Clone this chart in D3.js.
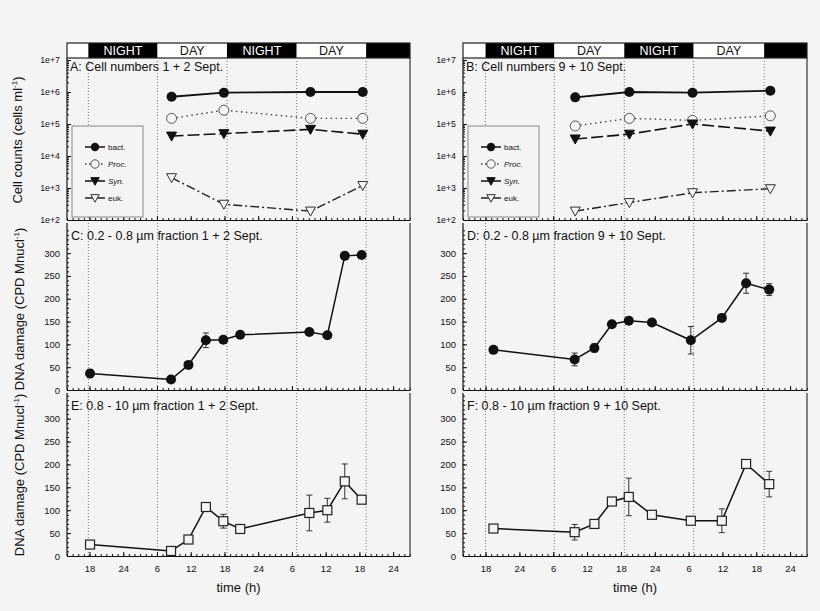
<!DOCTYPE html>
<html>
<head>
<meta charset="utf-8">
<script src="https://cdn.jsdelivr.net/npm/d3@7"></script>
<style>
body { margin: 0; background: #f4f4f4; }
svg { display: block; font-family: "Liberation Sans", Arial, sans-serif; }
</style>
</head>
<body>
<svg width="820" height="611"></svg>
<script>
// time in hours counted from midnight of the first day (30 = 6:00 next day, ...)
var tickHours = [18, 24, 30, 36, 42, 48, 54, 60, 66, 72];
var tickLabels = ["18", "24", "6", "12", "18", "24", "6", "12", "18", "24"];
var bandLabels = ["NIGHT", "DAY", "NIGHT", "DAY", ""];
var bounds1 = [17.8, 30.1, 42.45, 54.85, 67.2];
var bounds2 = [18, 30.2, 42.6, 54.9, 67.4];

var seriesNames = ["bact.", "Proc.", "Syn.", "euk."];

// A: cell numbers 1 + 2 Sept.
var cellTimes1 = [32.6, 41.9, 57.3, 66.6];
var bact1 = [7.1e5, 9.5e5, 1.0e6, 1.0e6];
var proc1 = [1.5e5, 2.7e5, 1.5e5, 1.5e5];
var syn1 = [4.2e4, 5.0e4, 6.8e4, 4.8e4];
var euk1 = [2.1e3, 3.1e2, 1.9e2, 1.2e3];

// B: cell numbers 9 + 10 Sept.
var cellTimes2 = [33.9, 43.5, 54.7, 68.5];
var bact2 = [6.8e5, 1.0e6, 9.5e5, 1.1e6];
var proc2 = [8.7e4, 1.5e5, 1.3e5, 1.8e5];
var syn2 = [3.4e4, 4.8e4, 1.0e5, 6.0e4];
var euk2 = [1.9e2, 3.5e2, 7.1e2, 9.5e2];

// C / E: DNA damage 1 + 2 Sept.
var dnaTimes1 = [18.1, 32.5, 35.6, 38.7, 41.8, 44.8, 57.1, 60.3, 63.4, 66.4];
var smallC = [36, 23, 55, 109, 110, 121, 127, 120, 294, 296];
var smallCErr = [9, 0, 0, 16, 0, 6, 0, 0, 0, 0];
var largeE = [25, 11, 36, 107, 76, 59, 94, 100, 163, 123];
var largeEErr = [0, 0, 0, 0, 15, 0, 39, 26, 38, 4];

// D / F: DNA damage 9 + 10 Sept.
var dnaTimes2 = [19.4, 33.8, 37.3, 40.4, 43.4, 47.5, 54.4, 59.9, 64.2, 68.3];
var smallD = [88, 67, 92, 144, 152, 148, 109, 158, 234, 220];
var smallDErr = [0, 14, 9, 0, 0, 0, 30, 0, 22, 13];
var largeF = [60, 52, 70, 119, 129, 90, 77, 77, 201, 157];
var largeFErr = [0, 17, 0, 0, 41, 0, 0, 26, 0, 28];

var svg = d3.select("svg");
var bg = "#f4f4f4";
var ink = "#111";

svg.append("rect").attr("width", 820).attr("height", 611).attr("fill", bg);

var bandTop = 43, bandBottom = 58;
var panA = { top: 58, bottom: 220 };
var panC = { top: 223, bottom: 390 };
var panE = { top: 393, bottom: 556 };

var columns = [
    {
        x0: 67, x1: 410, bounds: bounds1,
        cellTimes: cellTimes1, cells: [bact1, proc1, syn1, euk1],
        dnaTimes: dnaTimes1, small: smallC, smallErr: smallCErr, large: largeE, largeErr: largeEErr,
        titles: ["A: Cell numbers 1 + 2 Sept.", "C: 0.2 - 0.8 \u00b5m fraction 1 + 2 Sept.", "E: 0.8 - 10 \u00b5m fraction 1 + 2 Sept."],
        yTitles: true
    },
    {
        x0: 463, x1: 807, bounds: bounds2,
        cellTimes: cellTimes2, cells: [bact2, proc2, syn2, euk2],
        dnaTimes: dnaTimes2, small: smallD, smallErr: smallDErr, large: largeF, largeErr: largeFErr,
        titles: ["B: Cell numbers 9 + 10 Sept.", "D: 0.2 - 0.8 \u00b5m fraction 9 + 10 Sept.", "F: 0.8 - 10 \u00b5m fraction 9 + 10 Sept."],
        yTitles: false
    }
];

var lineStyles = [
    { dash: null, color: ink, w: 1.8 },
    { dash: "1.5,3.5", color: "#444", w: 1.4 },
    { dash: "12,4", color: ink, w: 1.6 },
    { dash: "9,3,2,3", color: "#222", w: 1.4 }
];

function triDown(g, cx, cy, filled, s) {
    g.append("path")
        .attr("d", "M" + (cx - s) + "," + (cy - s * 0.8) + "L" + (cx + s) + "," + (cy - s * 0.8) + "L" + cx + "," + (cy + s) + "Z")
        .attr("fill", filled ? ink : bg)
        .attr("stroke", filled ? ink : "#333")
        .attr("stroke-width", 1);
}

function marker(g, kind, cx, cy, s) {
    s = s || 5;
    if (kind == 0) {
        g.append("circle").attr("cx", cx).attr("cy", cy).attr("r", s).attr("fill", ink);
    } else if (kind == 1) {
        g.append("circle").attr("cx", cx).attr("cy", cy).attr("r", s)
            .attr("fill", bg).attr("stroke", "#555").attr("stroke-width", 1);
    } else if (kind == 2) {
        triDown(g, cx, cy, true, s);
    } else if (kind == 3) {
        triDown(g, cx, cy, false, s);
    } else {
        g.append("rect").attr("x", cx - 4.5).attr("y", cy - 4.5).attr("width", 9).attr("height", 9)
            .attr("fill", bg).attr("stroke", "#222").attr("stroke-width", 1.2);
    }
}

function drawXTicks(g, x, yPos, labels) {
    var minor = d3.range(14, 76, 1);
    g.append("g")
        .attr("transform", "translate(0," + yPos + ")")
        .call(d3.axisBottom(x).tickValues(minor).tickFormat("").tickSize(-2).tickSizeOuter(0))
        .call(function (a) { a.select(".domain").remove(); a.selectAll("line").attr("stroke", ink); });
    var ax = g.append("g")
        .attr("transform", "translate(0," + yPos + ")")
        .call(d3.axisBottom(x).tickValues(tickHours).tickSize(-4).tickSizeOuter(0).tickPadding(9)
            .tickFormat(function (d, i) { return labels ? tickLabels[i] : ""; }));
    ax.select(".domain").attr("stroke", ink).attr("stroke-width", 1.2);
    ax.selectAll("line").attr("stroke", ink);
    ax.selectAll("text").attr("font-size", 9.5).attr("fill", ink).attr("font-family", null);
}

function drawPanelFrame(g, c, top, bottom) {
    g.append("line").attr("x1", c.x1).attr("x2", c.x1).attr("y1", top).attr("y2", bottom)
        .attr("stroke", "#333").attr("stroke-width", 1.2);
}

function drawColumn(c) {
    var g = svg.append("g");
    var x = d3.scaleLinear().domain([14, 75]).range([c.x0, c.x1]);

    // day / night band
    var edges = [c.x0].concat(c.bounds.map(x)).concat([c.x1]);
    g.append("rect").attr("x", edges[0]).attr("y", bandTop).attr("width", edges[1] - edges[0])
        .attr("height", bandBottom - bandTop).attr("fill", "#ffffff");
    for (var i = 1; i < edges.length - 1; i++) {
        var night = (i % 2 == 1);
        g.append("rect").attr("x", edges[i]).attr("y", bandTop).attr("width", edges[i + 1] - edges[i])
            .attr("height", bandBottom - bandTop).attr("fill", night ? "#000000" : "#ffffff");
        g.append("text").attr("x", (edges[i] + edges[i + 1]) / 2).attr("y", bandBottom - 3.5)
            .attr("text-anchor", "middle").attr("font-size", 12.5)
            .attr("fill", night ? "#ffffff" : ink).text(bandLabels[i - 1]);
    }
    g.append("rect").attr("x", c.x0).attr("y", bandTop).attr("width", c.x1 - c.x0)
        .attr("height", bandBottom - bandTop).attr("fill", "none").attr("stroke", "#222").attr("stroke-width", 1.2);

    // dotted day/night gridlines
    [panA, panC, panE].forEach(function (p) {
        g.selectAll(null).data(c.bounds).enter().append("line")
            .attr("x1", function (d) { return x(d); }).attr("x2", function (d) { return x(d); })
            .attr("y1", p.top).attr("y2", p.bottom)
            .attr("stroke", "#777").attr("stroke-width", 1).attr("stroke-dasharray", "1,2");
    });

    // ---- panel A/B: cell counts (log)
    var yLog = d3.scaleLog().domain([1e2, 1e7]).range([panA.bottom, 60]);
    var minorLog = [];
    for (var e = 2; e < 7; e++) for (var m = 2; m < 10; m++) minorLog.push(m * Math.pow(10, e));
    g.append("g").attr("transform", "translate(" + c.x0 + ",0)")
        .call(d3.axisLeft(yLog).tickValues(minorLog).tickFormat("").tickSize(-2).tickSizeOuter(0))
        .call(function (a) { a.select(".domain").remove(); a.selectAll("line").attr("stroke", ink); });
    var ayA = g.append("g").attr("transform", "translate(" + c.x0 + ",0)")
        .call(d3.axisLeft(yLog).tickValues([1e2, 1e3, 1e4, 1e5, 1e6, 1e7]).tickSize(-4).tickSizeOuter(0).tickPadding(7)
            .tickFormat(function (d) { return "1e+" + Math.round(Math.log10(d)); }));
    ayA.select(".domain").attr("d", "M0," + panA.top + "V" + panA.bottom).attr("stroke", ink).attr("stroke-width", 1.2);
    ayA.selectAll("line").attr("stroke", ink);
    ayA.selectAll("text").attr("font-size", 8.8).attr("fill", ink).attr("font-family", null);
    drawXTicks(g, x, panA.bottom, false);
    drawPanelFrame(g, c, panA.top, panA.bottom);

    g.append("text").attr("x", c.x0 + 3).attr("y", 71).attr("font-size", 12.5).attr("fill", ink).text(c.titles[0]);

    c.cells.forEach(function (vals, k) {
        var pts = vals.map(function (v, j) { return { t: c.cellTimes[j], v: v }; });
        var line = d3.line().x(function (d) { return x(d.t); }).y(function (d) { return yLog(d.v); });
        g.append("path").datum(pts).attr("d", line).attr("fill", "none")
            .attr("stroke", lineStyles[k].color).attr("stroke-width", lineStyles[k].w)
            .attr("stroke-dasharray", lineStyles[k].dash);
    });
    c.cells.forEach(function (vals, k) {
        vals.forEach(function (v, j) { marker(g, k, x(c.cellTimes[j]), yLog(v)); });
    });

    // legend
    var lx = c.x0 + 5, ly = 126;
    g.append("rect").attr("x", lx).attr("y", ly).attr("width", 71).attr("height", 91)
        .attr("fill", bg).attr("stroke", "#888").attr("stroke-width", 1);
    seriesNames.forEach(function (name, k) {
        var yy = ly + 21 + k * 17;
        g.append("line").attr("x1", lx + 13).attr("x2", lx + 33).attr("y1", yy).attr("y2", yy)
            .attr("stroke", lineStyles[k].color).attr("stroke-width", 1.5)
            .attr("stroke-dasharray", k == 1 ? "1.5,2.5" : null);
        marker(g, k, lx + 23, yy, 4.2);
        g.append("text").attr("x", lx + 36).attr("y", yy + 3).attr("font-size", 8)
            .attr("font-style", (k == 1 || k == 2) ? "italic" : null).attr("fill", ink).text(name);
    });

    // ---- panels C/D and E/F: DNA damage
    var dnaPanels = [
        { p: panC, max: 366, vals: c.small, err: c.smallErr, kind: 0, title: c.titles[1], labels: false },
        { p: panE, max: 356, vals: c.large, err: c.largeErr, kind: 4, title: c.titles[2], labels: true }
    ];
    dnaPanels.forEach(function (dp) {
        var y = d3.scaleLinear().domain([0, dp.max]).range([dp.p.bottom, dp.p.top]);
        g.append("g").attr("transform", "translate(" + c.x0 + ",0)")
            .call(d3.axisLeft(y).tickValues(d3.range(0, 351, 10)).tickFormat("").tickSize(-2).tickSizeOuter(0))
            .call(function (a) { a.select(".domain").remove(); a.selectAll("line").attr("stroke", ink); });
        var ay = g.append("g").attr("transform", "translate(" + c.x0 + ",0)")
            .call(d3.axisLeft(y).tickValues([0, 50, 100, 150, 200, 250, 300]).tickSize(-4).tickSizeOuter(0).tickPadding(7));
        ay.select(".domain").attr("d", "M0," + dp.p.top + "V" + dp.p.bottom).attr("stroke", ink).attr("stroke-width", 1.2);
        ay.selectAll("line").attr("stroke", ink);
        ay.selectAll("text").attr("font-size", 9.5).attr("fill", ink).attr("font-family", null);
        drawXTicks(g, x, dp.p.bottom, dp.labels);
        drawPanelFrame(g, c, dp.p.top, dp.p.bottom);

        g.append("text").attr("x", c.x0 + 4).attr("y", dp.p.top + 17).attr("font-size", 12.5)
            .attr("fill", ink).text(dp.title);

        var pts = dp.vals.map(function (v, j) { return { t: c.dnaTimes[j], v: v, e: dp.err[j] }; });
        var line = d3.line().x(function (d) { return x(d.t); }).y(function (d) { return y(d.v); });
        g.append("path").datum(pts).attr("d", line).attr("fill", "none")
            .attr("stroke", ink).attr("stroke-width", 1.5);

        var eb = g.selectAll(null).data(pts.filter(function (d) { return d.e > 0; })).enter().append("g");
        eb.append("line").attr("x1", function (d) { return x(d.t); }).attr("x2", function (d) { return x(d.t); })
            .attr("y1", function (d) { return y(d.v - d.e); }).attr("y2", function (d) { return y(d.v + d.e); })
            .attr("stroke", "#333").attr("stroke-width", 1);
        [-1, 1].forEach(function (s) {
            eb.append("line").attr("x1", function (d) { return x(d.t) - 3; }).attr("x2", function (d) { return x(d.t) + 3; })
                .attr("y1", function (d) { return y(d.v + s * d.e); }).attr("y2", function (d) { return y(d.v + s * d.e); })
                .attr("stroke", "#333").attr("stroke-width", 1);
        });
        pts.forEach(function (d) { marker(g, dp.kind, x(d.t), y(d.v)); });
    });

    // x axis title
    g.append("text").attr("x", (c.x0 + c.x1) / 2).attr("y", 592).attr("text-anchor", "middle")
        .attr("font-size", 13).attr("fill", ink).text("time (h)");

    if (c.yTitles) {
        var yt = [
            { y: 140, main: "Cell counts (cells ml", x: 22 },
            { y: 309, main: "DNA damage (CPD Mnucl", x: 24 },
            { y: 475, main: "DNA damage (CPD Mnucl", x: 24 }
        ];
        yt.forEach(function (t) {
            var tx = g.append("text").attr("transform", "translate(" + t.x + "," + t.y + ") rotate(-90)")
                .attr("text-anchor", "middle").attr("font-size", 13).attr("fill", ink);
            tx.append("tspan").text(t.main);
            tx.append("tspan").attr("dy", -5).attr("font-size", 8).text("-1");
            tx.append("tspan").attr("dy", 5).text(")");
        });
    }
}

columns.forEach(drawColumn);
</script>
</body>
</html>
